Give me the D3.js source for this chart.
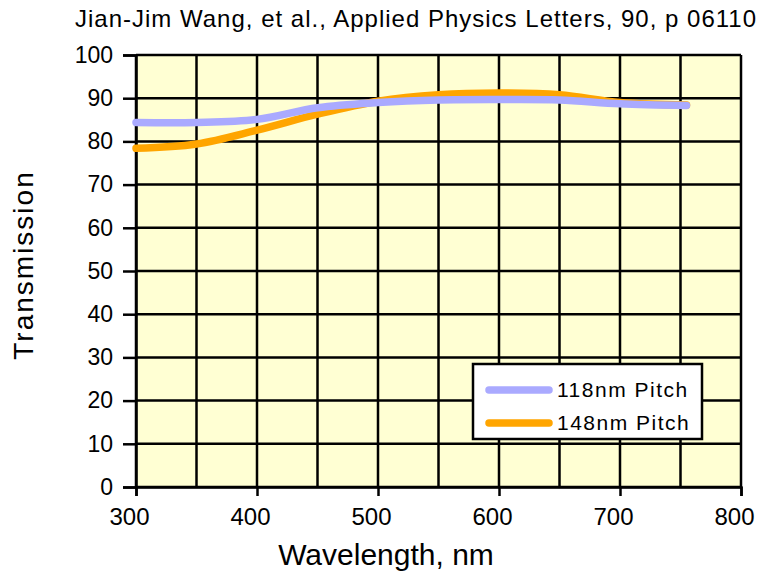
<!DOCTYPE html>
<html>
<body style="margin:0;background:#fff">
<script src="https://d3js.org/d3.v7.min.js"></script>
<style>
  text { font-family: "Liberation Sans", Arial, sans-serif; fill: #000; }
  .grid line { stroke: #000; stroke-width: 2.5px; }
</style>
<script>
// data
var wavelengths = [300, 350, 400, 450, 500, 550, 600, 650, 700, 755];
var pitch118 = [84.4, 84.4, 85.1, 87.8, 89.0, 89.6, 89.7, 89.6, 88.7, 88.3];
var pitch148 = [78.4, 79.4, 82.6, 86.3, 89.3, 90.8, 91.2, 90.8, 89.0, 88.4];
var seriesNames = ['118nm Pitch', '148nm Pitch'];
var seriesColors = ['#aaaaff', '#ffa500'];
var xTicks = [300, 400, 500, 600, 700, 800];
var yTicks = d3.range(0, 101, 10);

var margin = {top: 55, right: 16, bottom: 95, left: 136};
var W = 757, H = 582;
var width = W - margin.left - margin.right,
    height = H - margin.top - margin.bottom;

var xScale = d3.scaleLinear().domain([300, 800]).range([0, width]);
var yScale = d3.scaleLinear().domain([0, 100]).range([height, 0]);

var svg = d3.select('body').append('svg')
  .attr('width', W).attr('height', H);

svg.append('text')
  .attr('x', 75).attr('y', 27)
  .style('font-size', '24px')
  .style('letter-spacing', '1px')
  .text('Jian-Jim Wang, et al., Applied Physics Letters, 90, p 061104 (2007)');

var g = svg.append('g')
  .attr('transform', `translate(${margin.left}, ${margin.top})`);

g.append('rect')
  .attr('width', width).attr('height', height)
  .attr('fill', '#ffffd3');

// grid
var grid = g.append('g').attr('class', 'grid');
grid.selectAll('.v').data(d3.range(300, 801, 50)).enter().append('line')
  .attr('x1', d => xScale(d)).attr('x2', d => xScale(d))
  .attr('y1', 0).attr('y2', height);
grid.selectAll('.h').data(yTicks).enter().append('line')
  .attr('x1', 0).attr('x2', width)
  .attr('y1', d => yScale(d)).attr('y2', d => yScale(d));

// axes
var xAxis = d3.axisBottom(xScale).tickValues(xTicks).tickSize(9).tickPadding(12);
var yAxis = d3.axisLeft(yScale).tickValues(yTicks).tickSize(13).tickPadding(10);

g.append('g')
  .attr('transform', `translate(0, ${height})`)
  .call(xAxis)
  .call(a => a.selectAll('line, path').attr('stroke', '#000').attr('stroke-width', 2.5))
  .call(a => a.selectAll('text').style('font-size', '24px').attr('dx', -7)
    .style('font-family', '"Liberation Sans", Arial, sans-serif').attr('fill', '#000'));

g.append('g')
  .call(yAxis)
  .call(a => a.selectAll('line, path').attr('stroke', '#000').attr('stroke-width', 2.5))
  .call(a => a.selectAll('text').style('font-size', '23px')
    .style('font-family', '"Liberation Sans", Arial, sans-serif').attr('fill', '#000'));

// series
var line = d3.line()
  .x((d, i) => xScale(wavelengths[i]))
  .y(d => yScale(d))
  .curve(d3.curveCatmullRom.alpha(0.5));

[pitch148, pitch118].forEach((s, k) => {
  var idx = k === 0 ? 1 : 0;
  g.append('path')
    .datum(s)
    .attr('d', line)
    .attr('fill', 'none')
    .attr('stroke', seriesColors[idx])
    .attr('stroke-width', 7.5)
    .attr('stroke-linecap', 'round');
});

// axis titles
svg.append('text')
  .attr('x', 386).attr('y', 565)
  .attr('text-anchor', 'middle')
  .style('font-size', '30px')
  .text('Wavelength, nm');

svg.append('text')
  .attr('transform', `translate(33, 265) rotate(-90)`)
  .attr('text-anchor', 'middle')
  .style('font-size', '28px')
  .style('letter-spacing', '2px')
  .text('Transmission');

// legend
var lg = svg.append('g').attr('transform', 'translate(473, 364)');
lg.append('rect')
  .attr('width', 229).attr('height', 75)
  .attr('fill', '#fff').attr('stroke', '#000').attr('stroke-width', 2.5);
seriesNames.forEach((n, i) => {
  var yy = 26 + i * 33;
  lg.append('line')
    .attr('x1', 16).attr('x2', 76).attr('y1', yy).attr('y2', yy)
    .attr('stroke', seriesColors[i]).attr('stroke-width', 7.5)
    .attr('stroke-linecap', 'round');
  lg.append('text')
    .attr('x', 84).attr('y', yy + 7)
    .style('font-size', '21px')
    .style('letter-spacing', '1.5px')
    .text(n);
});
</script>
</body>
</html>
